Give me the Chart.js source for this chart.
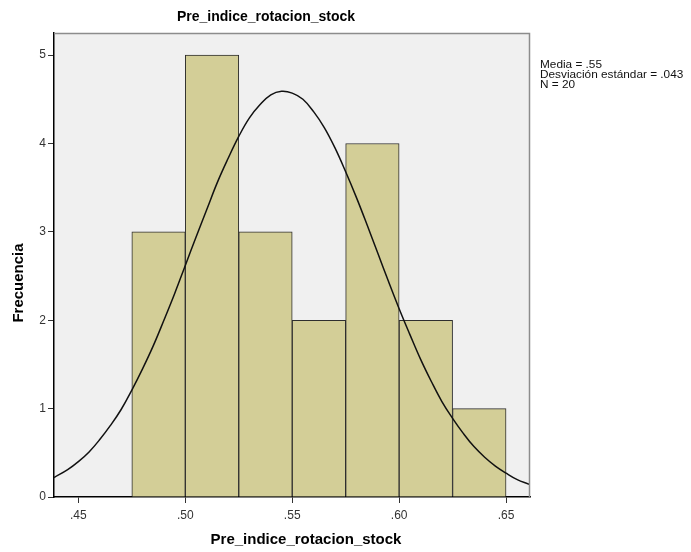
<!DOCTYPE html>
<html>
<head>
<meta charset="utf-8">
<script src="https://cdn.jsdelivr.net/npm/chart.js@4"></script>
<style>
  body { margin: 0; background: #fff; }
  #wrap { width: 691px; height: 552px; }
</style>
</head>
<body>
<div id="wrap"><canvas id="histChart" width="691" height="552"></canvas></div>
<script>
// histogram bins (centre of each .025 wide bin) and counts
const binCenters = [0.4875, 0.5125, 0.5375, 0.5625, 0.5875, 0.6125, 0.6375];
const binCounts = [3, 5, 3, 2, 4, 2, 1];

// normal curve
const curveX = [0.4386, 0.445, 0.45, 0.455, 0.46, 0.465, 0.47, 0.475, 0.48, 0.485, 0.49, 0.495,
    0.50, 0.505, 0.51, 0.515, 0.52, 0.525, 0.53, 0.535, 0.54, 0.545, 0.55, 0.555, 0.56, 0.565,
    0.57, 0.575, 0.58, 0.585, 0.59, 0.595, 0.60, 0.605, 0.61, 0.615, 0.62, 0.625, 0.63, 0.635,
    0.64, 0.645, 0.65, 0.655, 0.6612];
const curveY = [0.22, 0.31, 0.40, 0.51, 0.65, 0.81, 0.99, 1.21, 1.45, 1.71, 2.00, 2.30,
    2.62, 2.94, 3.25, 3.56, 3.83, 4.08, 4.29, 4.44, 4.55, 4.59, 4.57, 4.50, 4.36, 4.18,
    3.95, 3.68, 3.39, 3.08, 2.76, 2.44, 2.13, 1.84, 1.56, 1.31, 1.08, 0.89, 0.72, 0.57,
    0.45, 0.35, 0.27, 0.20, 0.14];

const xTicks = [0.45, 0.50, 0.55, 0.60, 0.65];
const yTicks = [0, 1, 2, 3, 4, 5];
const statLines = ["Media = .55", "Desviación estándar = .043", "N = 20"];
const chartTitle = "Pre_indice_rotacion_stock";
const xTitle = "Pre_indice_rotacion_stock";
const yTitle = "Frecuencia";

const FONT = "'Liberation Sans', Arial, sans-serif";

const plotDeco = {
    id: "plotDeco",
    beforeDraw(chart) {
        const a = chart.chartArea;
        const ctx = chart.ctx;
        ctx.save();
        ctx.fillStyle = "#f0f0f0";
        ctx.fillRect(a.left, a.top, a.right - a.left, a.bottom - a.top);
        ctx.restore();
    },
    afterDraw(chart) {
        const a = chart.chartArea;
        const ctx = chart.ctx;
        ctx.save();
        ctx.strokeStyle = "#8c8c8c";
        ctx.lineWidth = 1.5;
        ctx.beginPath();
        ctx.moveTo(a.left, a.top + 0.5);
        ctx.lineTo(a.right - 0.5, a.top + 0.5);
        ctx.lineTo(a.right - 0.5, a.bottom);
        ctx.stroke();

        ctx.fillStyle = "#000";
        ctx.textAlign = "center";
        ctx.textBaseline = "middle";
        ctx.font = "bold 14px " + FONT;
        ctx.fillText(chartTitle, 266, 17);
        ctx.font = "bold 15px " + FONT;
        ctx.fillText(xTitle, 306, 540);

        ctx.translate(19, 283);
        ctx.rotate(-Math.PI / 2);
        ctx.fillText(yTitle, 0, 0);
        ctx.setTransform(1, 0, 0, 1, 0, 0);

        ctx.font = "11.8px " + FONT;
        ctx.textAlign = "left";
        ctx.fillStyle = "#111";
        statLines.forEach(function (t, i) {
            ctx.fillText(t, 540, 65 + i * 10);
        });
        ctx.restore();
    }
};

new Chart(document.getElementById("histChart"), {
    data: {
        datasets: [{
            type: "line",
            data: curveX.map(function (x, i) { return { x: x, y: curveY[i] }; }),
            borderColor: "#111",
            borderWidth: 1.5,
            pointRadius: 0,
            tension: 0.4,
            fill: false,
            order: 0
        }, {
            type: "bar",
            data: binCenters.map(function (x, i) { return { x: x, y: binCounts[i] }; }),
            backgroundColor: "#d3ce97",
            borderColor: "#2e2e2e",
            borderWidth: 1,
            barPercentage: 1,
            categoryPercentage: 1,
            order: 1
        }]
    },
    options: {
        responsive: false,
        animation: false,
        layout: { padding: { top: 33, right: 161, left: 0, bottom: 0 } },
        plugins: { legend: { display: false }, tooltip: { enabled: false } },
        scales: {
            x: {
                type: "linear",
                offset: false,
                min: 0.4386,
                max: 0.6612,
                afterBuildTicks: function (axis) {
                    axis.ticks = xTicks.map(function (v) { return { value: v }; });
                },
                afterFit: function (axis) { axis.height = 55; },
                ticks: {
                    color: "#333",
                    font: { family: FONT, size: 12 },
                    padding: 5,
                    maxRotation: 0,
                    callback: function (v) { return v.toFixed(2).replace(/^0/, ""); }
                },
                grid: { offset: false, drawOnChartArea: false, drawTicks: true, tickLength: 6, color: "#333" },
                border: { display: true, color: "#000", width: 1.5 }
            },
            y: {
                min: 0,
                max: 5.25,
                afterBuildTicks: function (axis) {
                    axis.ticks = yTicks.map(function (v) { return { value: v }; });
                },
                afterFit: function (axis) { axis.width = 54; },
                ticks: {
                    color: "#333",
                    font: { family: FONT, size: 12 },
                    padding: 2
                },
                grid: { drawOnChartArea: false, drawTicks: true, tickLength: 6, color: "#333" },
                border: { display: true, color: "#000", width: 1.5 }
            }
        }
    },
    plugins: [plotDeco]
});
</script>
</body>
</html>
